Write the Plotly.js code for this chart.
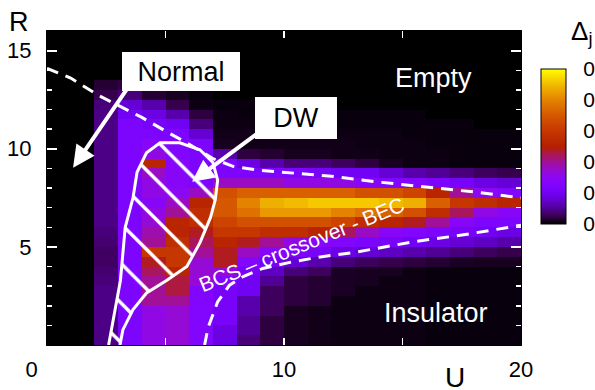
<!DOCTYPE html>
<html><head><meta charset="utf-8">
<script src="https://cdn.plot.ly/plotly-3.0.1.min.js"></script>
<style>html,body{margin:0;padding:0;background:#fff}#chart{width:595px;height:390px}</style>
</head><body><div id="chart"></div>
<script>
// Column centres (U) and row centres (R) of the heat map
const U = [0.5,1.5,2.5,3.5,4.5,5.5,6.5,7.5,8.5,9.5,10.5,11.5,12.5,13.5,14.5,15.5,16.5,17.5,18.5,19.5];
const R = [0.25,0.75,1.25,1.75,2.25,2.75,3.25,3.75,4.25,4.75,5.25,5.75,6.25,6.75,7.25,7.75,
           8.25,8.75,9.25,9.75,10.25,10.75,11.25,11.75,12.25,12.75,13.25,13.75,14.25,14.75,15.25,15.75];
// Delta_j, one row per R value (bottom to top)
const delta = [
 [0,0,0.022,0.06,0.08,0.085,0.065,0.045,0.02,0.01,0.005,0.004,0.003,0.003,0.003,0.003,0.002,0.002,0.002,0.002],
 [0,0,0.022,0.06,0.08,0.085,0.065,0.045,0.025,0.01,0.005,0.004,0.003,0.003,0.003,0.003,0.002,0.002,0.002,0.002],
 [0,0,0.022,0.06,0.08,0.085,0.065,0.055,0.025,0.01,0.005,0.004,0.003,0.003,0.003,0.003,0.002,0.002,0.002,0.002],
 [0,0,0.022,0.06,0.08,0.085,0.065,0.055,0.03,0.015,0.005,0.004,0.003,0.003,0.003,0.003,0.002,0.002,0.002,0.002],
 [0,0,0.022,0.06,0.1,0.1,0.065,0.055,0.03,0.015,0.01,0.008,0.003,0.003,0.003,0.003,0.002,0.002,0.002,0.002],
 [0,0,0.022,0.06,0.1,0.115,0.065,0.055,0.05,0.015,0.01,0.008,0.006,0.003,0.003,0.003,0.002,0.002,0.002,0.002],
 [0,0,0.02,0.06,0.1,0.115,0.085,0.065,0.05,0.025,0.01,0.008,0.006,0.005,0.003,0.003,0.002,0.002,0.002,0.002],
 [0,0,0.018,0.06,0.11,0.13,0.085,0.085,0.055,0.035,0.02,0.015,0.006,0.005,0.005,0.003,0.002,0.002,0.002,0.002],
 [0,0,0.016,0.06,0.12,0.15,0.085,0.12,0.065,0.05,0.04,0.03,0.02,0.015,0.012,0.01,0.008,0.006,0.005,0.005],
 [0,0,0.016,0.06,0.15,0.15,0.1,0.12,0.09,0.07,0.06,0.055,0.045,0.04,0.035,0.03,0.025,0.02,0.015,0.012],
 [0,0,0.018,0.06,0.1,0.14,0.11,0.13,0.12,0.1,0.08,0.07,0.065,0.06,0.055,0.05,0.045,0.04,0.035,0.03],
 [0,0,0.02,0.06,0.095,0.13,0.12,0.15,0.15,0.14,0.14,0.13,0.11,0.09,0.07,0.065,0.06,0.055,0.05,0.045],
 [0,0,0.022,0.06,0.085,0.13,0.14,0.16,0.17,0.17,0.17,0.17,0.16,0.14,0.13,0.12,0.1,0.07,0.06,0.06],
 [0,0,0.022,0.06,0.08,0.1,0.14,0.175,0.19,0.21,0.21,0.21,0.2,0.19,0.18,0.17,0.14,0.11,0.08,0.07],
 [0,0,0.022,0.06,0.07,0.09,0.13,0.175,0.2,0.22,0.225,0.23,0.23,0.23,0.225,0.22,0.18,0.15,0.14,0.13],
 [0,0,0.022,0.06,0.08,0.075,0.09,0.17,0.18,0.18,0.18,0.18,0.18,0.17,0.17,0.16,0.13,0.1,0.075,0.065],
 [0,0,0.022,0.06,0.08,0.07,0.06,0.09,0.09,0.09,0.08,0.08,0.08,0.07,0.065,0.065,0.06,0.055,0.045,0.04],
 [0,0,0.022,0.06,0.09,0.07,0.06,0.06,0.06,0.06,0.06,0.055,0.05,0.05,0.04,0.03,0.025,0.02,0.015,0.012],
 [0,0,0.022,0.06,0.13,0.07,0.06,0.06,0.045,0.03,0.02,0.02,0.015,0.01,0.005,0.003,0.003,0.002,0.002,0.002],
 [0,0,0.022,0.06,0.08,0.065,0.06,0.03,0.01,0.008,0.005,0.005,0.004,0.004,0.003,0.003,0.003,0.002,0.002,0.002],
 [0,0,0.022,0.06,0.07,0.065,0.06,0.005,0.004,0.004,0.004,0.004,0.004,0.003,0.003,0.003,0.002,0.002,0.002,0.002],
 [0,0,0.022,0.06,0.06,0.06,0.04,0.004,0.004,0.004,0.004,0.004,0.003,0.003,0.003,0.002,0.002,0.002,0.002,0.002],
 [0,0,0.022,0.06,0.055,0.05,0.02,0.003,0.003,0.003,0.003,0.003,0.002,0.002,0.002,0.002,0.002,0.002,0,0],
 [0,0,0.022,0.05,0.045,0.03,0.01,0.003,0.002,0.002,0.002,0.002,0.002,0.002,0.002,0.002,0,0,0,0],
 [0,0,0.02,0.04,0.03,0.012,0.003,0.002,0.002,0.002,0,0,0,0,0,0,0,0,0,0],
 [0,0,0.012,0.02,0.008,0.005,0.002,0,0,0,0,0,0,0,0,0,0,0,0,0],
 [0,0,0.008,0.01,0.005,0.003,0,0,0,0,0,0,0,0,0,0,0,0,0,0],
 [0,0,0,0,0,0,0,0,0,0,0,0,0,0,0,0,0,0,0,0],
 [0,0,0,0,0,0,0,0,0,0,0,0,0,0,0,0,0,0,0,0],
 [0,0,0,0,0,0,0,0,0,0,0,0,0,0,0,0,0,0,0,0],
 [0,0,0,0,0,0,0,0,0,0,0,0,0,0,0,0,0,0,0,0],
 [0,0,0,0,0,0,0,0,0,0,0,0,0,0,0,0,0,0,0,0]
];
// Phase boundaries
const upperU = [0,1,2.2,3,4,5,5.9,7,7.85,9,10,12,14,16,18,20];
const upperR = [14.1,13.6,12.7,12.2,11.6,10.9,10.3,9.5,9.1,8.9,8.8,8.6,8.3,8.05,7.8,7.5];
const lowerU = [6.65,6.8,7.2,7.7,8.3,9.1,10.4,11.6,13,15.4,17.5,20];
const lowerR = [0,0.9,2.2,3.05,3.5,3.9,4.25,4.5,4.72,5.25,5.6,6.1];
const dwU = [2.6,2.8,3.1,3.3,3.63,3.8,4.2,4.77,5.6,6.45,7.0,7.2,7.1,6.9,6.45,5.9,5.06,4.2,3.63,3.2,3.08];
const dwR = [0,1.4,3.3,6.0,7.5,8.8,9.8,10.3,10.3,9.95,9.3,8.4,7.4,6.5,5.2,4.0,3.3,2.65,1.8,0.77,0];
// Ticks
const xTickVals = [0,10,20];
const xTickText = ['0\u00a0\u00a0\u00a0\u00a0\u00a0','10','20'];
const yTickVals = [5,10,15];
const yTickText = ['5','10','15'];
const cbTickVals = [0,0.05,0.1,0.15,0.2,0.25];

const gnuplot = [[0,'rgb(0,0,0)'],[0.05,'rgb(57,0,79)'],[0.1,'rgb(81,0,150)'],[0.15,'rgb(99,1,206)'],
 [0.2,'rgb(114,2,243)'],[0.25,'rgb(128,4,255)'],[0.3,'rgb(140,7,243)'],[0.35,'rgb(151,11,206)'],
 [0.4,'rgb(161,16,150)'],[0.45,'rgb(171,23,79)'],[0.5,'rgb(180,32,0)'],[0.6,'rgb(198,55,0)'],
 [0.7,'rgb(213,87,0)'],[0.8,'rgb(228,131,0)'],[0.9,'rgb(242,186,0)'],[1,'rgb(255,255,0)']];

const FONT = 'Liberation Sans, Arial, Helvetica, sans-serif';

const traces = [
 {type:'heatmap', x:U, y:R, z:delta, zmin:0, zmax:0.25, colorscale:gnuplot, zsmooth:false, hoverinfo:'skip',
  colorbar:{x:1.042, xanchor:'left', y:0.632, yanchor:'middle', len:155, lenmode:'pixels',
   thickness:25, thicknessmode:'pixels', outlinecolor:'black', outlinewidth:1,
   tickvals:cbTickVals, ticks:'outside', ticklen:13, tickcolor:'rgba(0,0,0,0)',
   tickfont:{size:21, family:FONT, color:'black'}, xpad:0, ypad:0}},
 {type:'scatter', mode:'lines', x:upperU, y:upperR, line:{color:'white', width:3, dash:'12px,8px'}, hoverinfo:'skip'},
 {type:'scatter', mode:'lines', x:lowerU, y:lowerR, line:{color:'white', width:3, dash:'12px,8px'}, hoverinfo:'skip'},
 {type:'scatter', mode:'lines', x:dwU, y:dwR, line:{color:'white', width:3}, fill:'toself',
  fillcolor:'rgba(0,0,0,0)',
  fillpattern:{shape:'\\', fgcolor:'white', bgcolor:'rgba(0,0,0,0)', size:28, solidity:0.12},
  hoverinfo:'skip'}
];

const layout = {
 width:595, height:390,
 margin:{l:47, r:74, t:31, b:45, pad:0, autoexpand:false},
 paper_bgcolor:'white', plot_bgcolor:'black',
 showlegend:false,
 font:{family:FONT, color:'black'},
 xaxis:{range:[0,20], tickvals:xTickVals, ticktext:xTickText, ticks:'inside', ticklen:7, tickwidth:1.5,
  tickcolor:'white', showline:true, linecolor:'black', linewidth:1, mirror:'ticks', showgrid:false,
  zeroline:false, tickfont:{size:22, family:FONT, color:'black'}, ticklabelstandoff:5, automargin:false,
  minor:{tickvals:[5,15], ticks:'inside', ticklen:7, tickwidth:1.5, tickcolor:'white', showgrid:false}},
 yaxis:{range:[0,16], tickvals:yTickVals, ticktext:yTickText, ticks:'inside', ticklen:10, tickwidth:2,
  tickcolor:'white', showline:true, linecolor:'black', linewidth:1, mirror:'ticks', showgrid:false,
  zeroline:false, tickfont:{size:22, family:FONT, color:'black'}, ticklabelstandoff:10, automargin:false,
  minor:{dtick:1, tick0:0, ticks:'inside', ticklen:5, tickwidth:1.5, tickcolor:'white', showgrid:false}},
 annotations:[
  {x:1.1, y:9.03, ax:3.5, ay:13.27, axref:'x', ayref:'y', xref:'x', yref:'y', text:'', showarrow:true,
   arrowcolor:'white', arrowwidth:4, arrowhead:2, arrowsize:1.1},
  {x:6.12, y:8.32, ax:9.2, ay:11.07, axref:'x', ayref:'y', xref:'x', yref:'y', text:'', showarrow:true,
   arrowcolor:'white', arrowwidth:4, arrowhead:2, arrowsize:1.1},
  {x:5.65, y:13.93, xref:'x', yref:'y', text:'Normal', showarrow:false, bgcolor:'white', bordercolor:'white',
   borderpad:2, width:112, height:33, font:{size:27, family:FONT, color:'black'}},
  {x:10.5, y:11.58, xref:'x', yref:'y', text:'DW', showarrow:false, bgcolor:'white', bordercolor:'white',
   borderpad:2, width:76, height:36, font:{size:27, family:FONT, color:'black'}},
  {x:16.3, y:13.6, xref:'x', yref:'y', text:'Empty', showarrow:false, font:{size:27, family:FONT, color:'white'}},
  {x:16.4, y:1.63, xref:'x', yref:'y', text:'Insulator', showarrow:false, font:{size:27, family:FONT, color:'white'}},
  {x:10.75, y:5.1, xref:'x', yref:'y', text:'BCS \u2013 crossover - BEC', textangle:-22, showarrow:false,
   font:{size:21, family:FONT, color:'white'}},
  {x:-0.059, y:1.03, xref:'paper', yref:'paper', xanchor:'center', yanchor:'middle', text:'R', showarrow:false,
   font:{size:27, family:FONT, color:'black'}},
  {x:0.861, y:-0.105, xref:'paper', yref:'paper', xanchor:'center', yanchor:'middle', text:'U', showarrow:false,
   font:{size:28, family:FONT, color:'black'}},
  {x:1.101, y:0.994, xref:'paper', yref:'paper', xanchor:'left', yanchor:'middle', text:'\u0394<sub>j</sub>',
   showarrow:false, font:{size:26, family:FONT, color:'black'}}
 ]
};

Plotly.newPlot('chart', traces, layout, {displayModeBar:false, staticPlot:true});
</script>
</body></html>
